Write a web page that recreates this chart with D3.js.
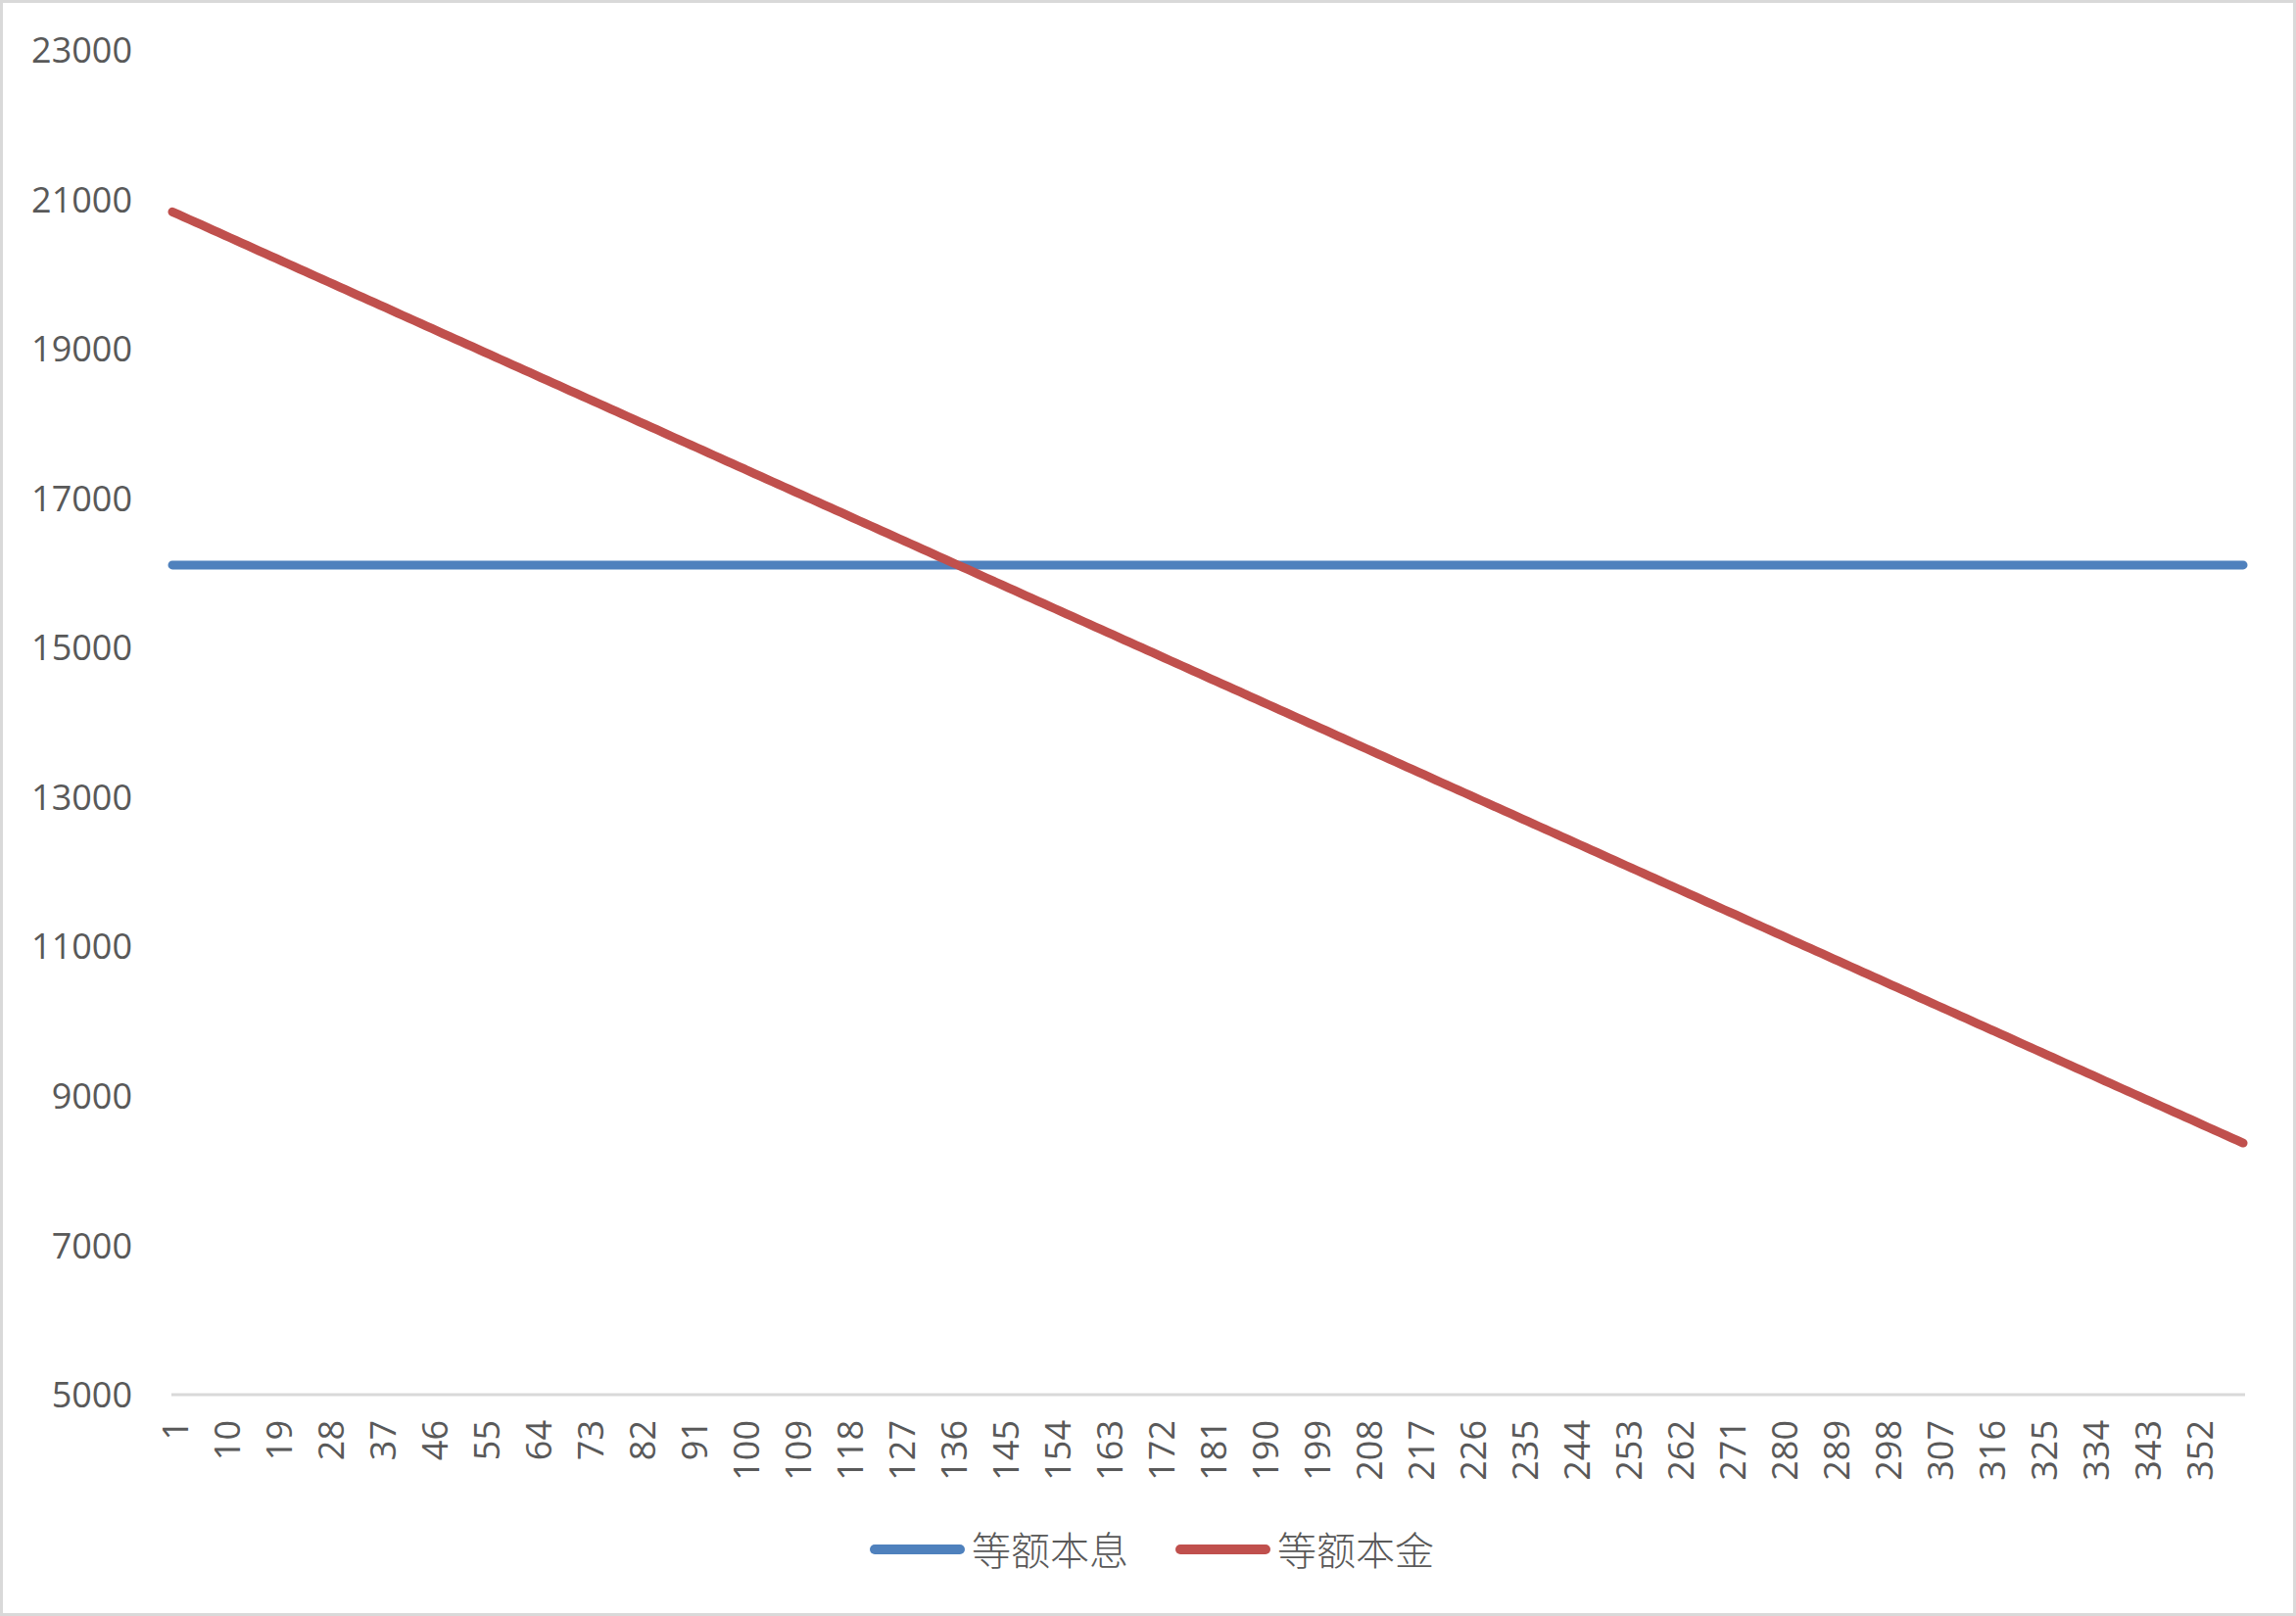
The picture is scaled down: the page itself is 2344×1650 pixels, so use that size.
<!DOCTYPE html>
<html>
<head>
<meta charset="utf-8">
<script src="https://cdn.jsdelivr.net/npm/d3@7"></script>
<style>
html,body{margin:0;padding:0;background:#fff;}
svg{display:block;}
</style>
</head>
<body>
<svg id="chart" width="2344" height="1650"></svg>
<script>
// Series names
const seriesNames = ["等额本息", "等额本金"];

// 等额本息 (equal installment) monthly payment, months 1..360
const equalInstallment = [
16105,16105,16105,16105,16105,16105,16105,16105,16105,16105,16105,16105,16105,16105,16105,16105,16105,16105,
16105,16105,16105,16105,16105,16105,16105,16105,16105,16105,16105,16105,16105,16105,16105,16105,16105,16105,
16105,16105,16105,16105,16105,16105,16105,16105,16105,16105,16105,16105,16105,16105,16105,16105,16105,16105,
16105,16105,16105,16105,16105,16105,16105,16105,16105,16105,16105,16105,16105,16105,16105,16105,16105,16105,
16105,16105,16105,16105,16105,16105,16105,16105,16105,16105,16105,16105,16105,16105,16105,16105,16105,16105,
16105,16105,16105,16105,16105,16105,16105,16105,16105,16105,16105,16105,16105,16105,16105,16105,16105,16105,
16105,16105,16105,16105,16105,16105,16105,16105,16105,16105,16105,16105,16105,16105,16105,16105,16105,16105,
16105,16105,16105,16105,16105,16105,16105,16105,16105,16105,16105,16105,16105,16105,16105,16105,16105,16105,
16105,16105,16105,16105,16105,16105,16105,16105,16105,16105,16105,16105,16105,16105,16105,16105,16105,16105,
16105,16105,16105,16105,16105,16105,16105,16105,16105,16105,16105,16105,16105,16105,16105,16105,16105,16105,
16105,16105,16105,16105,16105,16105,16105,16105,16105,16105,16105,16105,16105,16105,16105,16105,16105,16105,
16105,16105,16105,16105,16105,16105,16105,16105,16105,16105,16105,16105,16105,16105,16105,16105,16105,16105,
16105,16105,16105,16105,16105,16105,16105,16105,16105,16105,16105,16105,16105,16105,16105,16105,16105,16105,
16105,16105,16105,16105,16105,16105,16105,16105,16105,16105,16105,16105,16105,16105,16105,16105,16105,16105,
16105,16105,16105,16105,16105,16105,16105,16105,16105,16105,16105,16105,16105,16105,16105,16105,16105,16105,
16105,16105,16105,16105,16105,16105,16105,16105,16105,16105,16105,16105,16105,16105,16105,16105,16105,16105,
16105,16105,16105,16105,16105,16105,16105,16105,16105,16105,16105,16105,16105,16105,16105,16105,16105,16105,
16105,16105,16105,16105,16105,16105,16105,16105,16105,16105,16105,16105,16105,16105,16105,16105,16105,16105,
16105,16105,16105,16105,16105,16105,16105,16105,16105,16105,16105,16105,16105,16105,16105,16105,16105,16105,
16105,16105,16105,16105,16105,16105,16105,16105,16105,16105,16105,16105,16105,16105,16105,16105,16105,16105
];

// 等额本金 (equal principal) monthly payment, months 1..360
const equalPrincipal = [
20833,20799,20764,20729,20694,20660,20625,20590,20556,20521,20486,20451,20417,20382,20347,20312,20278,20243,
20208,20174,20139,20104,20069,20035,20000,19965,19931,19896,19861,19826,19792,19757,19722,19687,19653,19618,
19583,19549,19514,19479,19444,19410,19375,19340,19306,19271,19236,19201,19167,19132,19097,19062,19028,18993,
18958,18924,18889,18854,18819,18785,18750,18715,18681,18646,18611,18576,18542,18507,18472,18437,18403,18368,
18333,18299,18264,18229,18194,18160,18125,18090,18056,18021,17986,17951,17917,17882,17847,17812,17778,17743,
17708,17674,17639,17604,17569,17535,17500,17465,17431,17396,17361,17326,17292,17257,17222,17187,17153,17118,
17083,17049,17014,16979,16944,16910,16875,16840,16806,16771,16736,16701,16667,16632,16597,16562,16528,16493,
16458,16424,16389,16354,16319,16285,16250,16215,16181,16146,16111,16076,16042,16007,15972,15937,15903,15868,
15833,15799,15764,15729,15694,15660,15625,15590,15556,15521,15486,15451,15417,15382,15347,15312,15278,15243,
15208,15174,15139,15104,15069,15035,15000,14965,14931,14896,14861,14826,14792,14757,14722,14687,14653,14618,
14583,14549,14514,14479,14444,14410,14375,14340,14306,14271,14236,14201,14167,14132,14097,14062,14028,13993,
13958,13924,13889,13854,13819,13785,13750,13715,13681,13646,13611,13576,13542,13507,13472,13437,13403,13368,
13333,13299,13264,13229,13194,13160,13125,13090,13056,13021,12986,12951,12917,12882,12847,12812,12778,12743,
12708,12674,12639,12604,12569,12535,12500,12465,12431,12396,12361,12326,12292,12257,12222,12187,12153,12118,
12083,12049,12014,11979,11944,11910,11875,11840,11806,11771,11736,11701,11667,11632,11597,11562,11528,11493,
11458,11424,11389,11354,11319,11285,11250,11215,11181,11146,11111,11076,11042,11007,10972,10937,10903,10868,
10833,10799,10764,10729,10694,10660,10625,10590,10556,10521,10486,10451,10417,10382,10347,10312,10278,10243,
10208,10174,10139,10104,10069,10035,10000,9965,9931,9896,9861,9826,9792,9757,9722,9687,9653,9618,
9583,9549,9514,9479,9444,9410,9375,9340,9306,9271,9236,9201,9167,9132,9097,9062,9028,8993,
8958,8924,8889,8854,8819,8785,8750,8715,8681,8646,8611,8576,8542,8507,8472,8437,8403,8368
];

// Month categories (1..360)
const months = equalPrincipal.map((d, i) => i + 1);

// X tick labels shown
const xTickLabels = [1,10,19,28,37,46,55,64,73,82,91,100,109,118,127,136,145,154,163,172,181,190,199,208,217,226,235,244,253,262,271,280,289,298,307,316,325,334,343,352];

// Y tick labels
const yTicks = [5000,7000,9000,11000,13000,15000,17000,19000,21000,23000];

const colors = ["#4F81BD", "#C0504D"];
const textColor = "#595959";
const font = "'Open Sans', 'Liberation Sans', sans-serif";
const cjkFont = "'Noto Sans CJK SC', sans-serif";

const svg = d3.select("#chart");

// Chart area border
svg.append("rect")
  .attr("x", 1.5).attr("y", 1.5)
  .attr("width", 2341).attr("height", 1647)
  .attr("fill", "#fff")
  .attr("stroke", "#d9d9d9").attr("stroke-width", 3);

const plot = {left: 176, right: 2290, top: 51, bottom: 1424};

const x = d3.scalePoint().domain(months).range([plot.left, plot.right]);
const y = d3.scaleLinear().domain([5000, 23000]).range([plot.bottom, plot.top]);

// Y axis labels
const yAxis = d3.axisLeft(y).tickValues(yTicks).tickSize(0).tickPadding(0).tickFormat(d3.format("d"));
const yg = svg.append("g").attr("transform", "translate(135,0)").call(yAxis);
yg.select(".domain").remove();
yg.selectAll("text")
  .attr("fill", textColor)
  .attr("font-family", font)
  .attr("font-size", 36)
  .attr("dy", "0.35em");

// X axis line + labels
const xAxis = d3.axisBottom(x).tickValues(xTickLabels).tickSize(0).tickPadding(0);
const xg = svg.append("g").attr("transform", `translate(0,${plot.bottom})`).call(xAxis);
xg.select(".domain").remove();
svg.append("line")
  .attr("x1", plot.left - 1).attr("x2", plot.right + 2)
  .attr("y1", plot.bottom).attr("y2", plot.bottom)
  .attr("stroke", "#d9d9d9").attr("stroke-width", 3);
xg.selectAll("text")
  .attr("fill", textColor)
  .attr("font-family", font)
  .attr("font-size", 36)
  .attr("text-anchor", "end")
  .attr("dy", null)
  .attr("y", null)
  .attr("dominant-baseline", "central")
  .attr("transform", "translate(2,26) rotate(-90)");

// Lines
const line = d3.line().x((d, i) => x(months[i])).y(d => y(d));
[equalInstallment, equalPrincipal].forEach((series, k) => {
  svg.append("path")
    .datum(series)
    .attr("d", line)
    .attr("fill", "none")
    .attr("stroke", colors[k])
    .attr("stroke-width", 9)
    .attr("stroke-linecap", "round")
    .attr("stroke-linejoin", "round");
});

// Legend
const legendItems = [
  {name: seriesNames[0], color: colors[0], x0: 888},
  {name: seriesNames[1], color: colors[1], x0: 1200}
];
const legendY = 1582;
legendItems.forEach(item => {
  svg.append("line")
    .attr("x1", item.x0 + 5).attr("x2", item.x0 + 92)
    .attr("y1", legendY).attr("y2", legendY)
    .attr("stroke", item.color).attr("stroke-width", 10)
    .attr("stroke-linecap", "round");
  svg.append("text")
    .attr("x", item.x0 + 104).attr("y", legendY - 1)
    .attr("dominant-baseline", "central")
    .attr("fill", textColor)
    .attr("font-family", cjkFont)
    .attr("font-weight", 300)
    .attr("font-size", 40)
    .text(item.name);
});
</script>
</body>
</html>
